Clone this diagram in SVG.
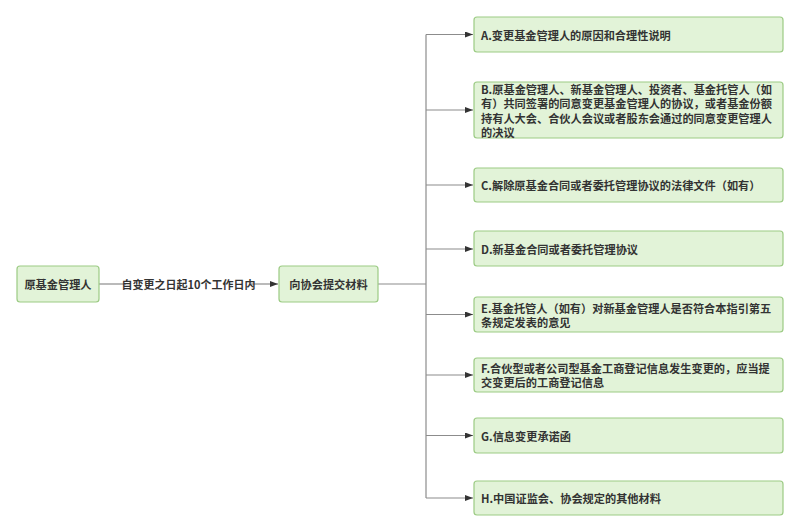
<svg xmlns="http://www.w3.org/2000/svg" width="800" height="532" viewBox="0 0 800 532">
<defs>
<style>
.box{fill:#e2f3d8;stroke:#9ccb84;stroke-width:1.2}
.t{font-family:"Noto Sans CJK SC","Noto Sans",sans-serif;font-weight:bold;font-size:11.2px;fill:#333}
.c{text-anchor:middle;dominant-baseline:central}
.e{fill:none;stroke:#8c8c8c;stroke-width:1.2}
.lbl{font-family:"Noto Sans CJK SC","Noto Sans",sans-serif;font-weight:bold;font-size:11px;fill:#333}
</style>
<marker id="ah" viewBox="0 0 8 6" refX="8" refY="3" markerWidth="8" markerHeight="6" markerUnits="userSpaceOnUse" orient="auto">
<path d="M0,0 L8,3 L0,6 Z" fill="#333"/>
</marker>
</defs>
<rect width="800" height="532" fill="#fff"/>
<g id="connectors">
<path class="e" d="M99,284 H126"/>
<path class="e" d="M250,284 H278" marker-end="url(#ah)"/>
<text class="lbl c" x="188.5" y="284">自变更之日起10个工作日内</text>
<path class="e" d="M378,284 H426"/>
<path class="e" d="M426,34.5 V498"/>
<path class="e" d="M426,34.5 H473" marker-end="url(#ah)"/>
<path class="e" d="M426,110 H473" marker-end="url(#ah)"/>
<path class="e" d="M426,185 H473" marker-end="url(#ah)"/>
<path class="e" d="M426,249 H473" marker-end="url(#ah)"/>
<path class="e" d="M426,314.5 H473" marker-end="url(#ah)"/>
<path class="e" d="M426,375 H473" marker-end="url(#ah)"/>
<path class="e" d="M426,435.5 H473" marker-end="url(#ah)"/>
<path class="e" d="M426,498 H473" marker-end="url(#ah)"/>
</g>
<g id="n_src"><rect class="box" x="17" y="266" width="82" height="36" rx="3"/><text class="t c" x="58" y="284">原基金管理人</text></g>
<g id="n_submit"><rect class="box" x="279" y="266" width="99" height="36" rx="3"/><text class="t c" x="328.5" y="284">向协会提交材料</text></g>
<g id="n_a"><rect class="box" x="474" y="17" width="309" height="35" rx="3"/><text class="t" x="481" y="34.5" dominant-baseline="central">A.变更基金管理人的原因和合理性说明</text></g>
<g id="n_b"><rect class="box" x="474" y="82" width="309" height="56" rx="3"/>
<text class="t" x="481" dominant-baseline="central"><tspan x="481" y="89">B.原基金管理人、新基金管理人、投资者、基金托管人（如</tspan><tspan x="481" y="103.4">有）共同签署的同意变更基金管理人的协议，或者基金份额</tspan><tspan x="481" y="117.8">持有人大会、合伙人会议或者股东会通过的同意变更管理人</tspan><tspan x="481" y="132.2">的决议</tspan></text></g>
<g id="n_c"><rect class="box" x="474" y="168" width="309" height="34" rx="3"/><text class="t" x="481" y="185" dominant-baseline="central">C.解除原基金合同或者委托管理协议的法律文件（如有）</text></g>
<g id="n_d"><rect class="box" x="474" y="231" width="309" height="35" rx="3"/><text class="t" x="481" y="248.5" dominant-baseline="central">D.新基金合同或者委托管理协议</text></g>
<g id="n_e"><rect class="box" x="474" y="297" width="309" height="35" rx="3"/>
<text class="t" dominant-baseline="central"><tspan x="481" y="307.7">E.基金托管人（如有）对新基金管理人是否符合本指引第五</tspan><tspan x="481" y="321.8">条规定发表的意见</tspan></text></g>
<g id="n_f"><rect class="box" x="474" y="358" width="309" height="34" rx="3"/>
<text class="t" dominant-baseline="central"><tspan x="481" y="368">F.合伙型或者公司型基金工商登记信息发生变更的，应当提</tspan><tspan x="481" y="382.1">交变更后的工商登记信息</tspan></text></g>
<g id="n_g"><rect class="box" x="474" y="418" width="309" height="35" rx="3"/><text class="t" x="481" y="435.5" dominant-baseline="central">G.信息变更承诺函</text></g>
<g id="n_h"><rect class="box" x="474" y="481" width="309" height="34" rx="3"/><text class="t" x="481" y="498" dominant-baseline="central">H.中国证监会、协会规定的其他材料</text></g>
</svg>
